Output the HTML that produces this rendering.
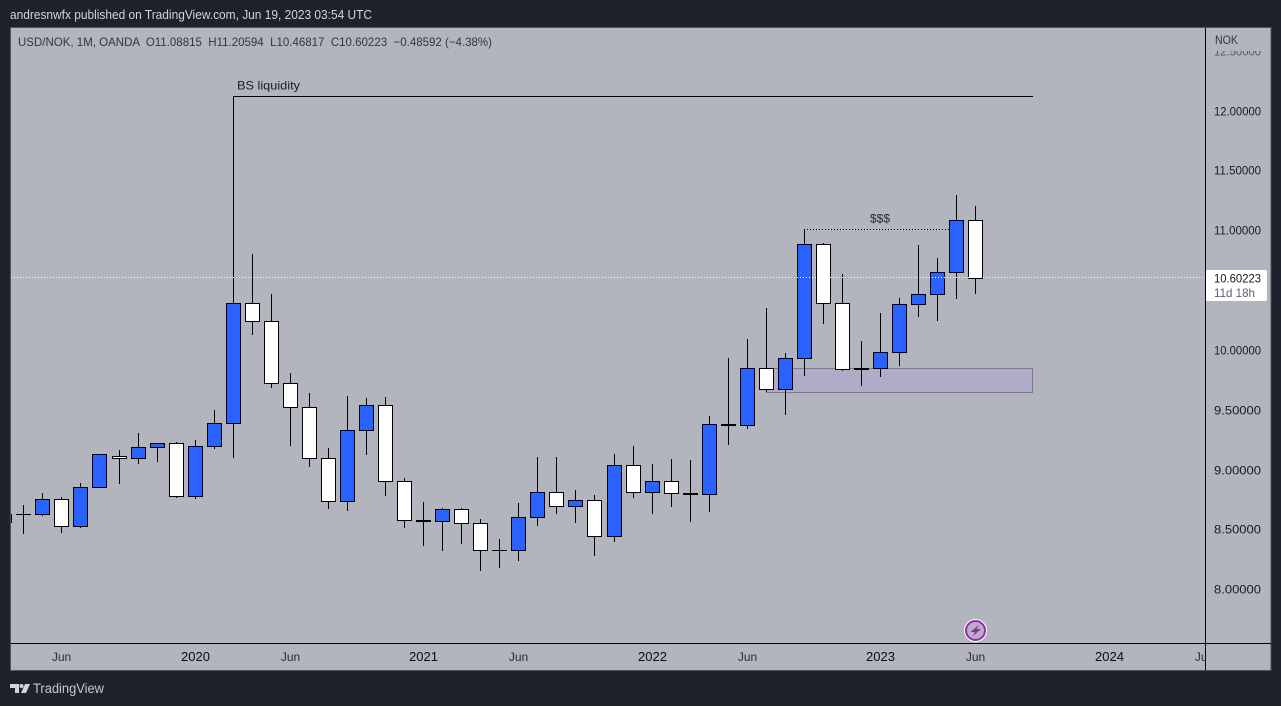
<!DOCTYPE html>
<html lang="en">
<head>
<meta charset="utf-8">
<title>USD/NOK 1M chart</title>
<style>
html,body{margin:0;padding:0;width:1281px;height:706px;overflow:hidden;background:#1e222d}
svg{display:block;font-family:"Liberation Sans",sans-serif}
</style>
</head>
<body>
<svg id="chart" xmlns="http://www.w3.org/2000/svg" width="1281" height="706" viewBox="0 0 1281 706">
  <defs>
    <clipPath id="plot-clip"><rect x="11" y="28" width="1194" height="615"/></clipPath>
    <clipPath id="time-clip"><rect x="11" y="644" width="1194" height="26"/></clipPath>
    <clipPath id="price-clip"><rect x="1206" y="51" width="64" height="592"/></clipPath>
  </defs>
  <rect x="0" y="0" width="1281" height="706" fill="#1e222d"/>
  <text x="10" y="19" font-size="12.5" fill="#d1d4dc" textLength="362" lengthAdjust="spacingAndGlyphs">andresnwfx published on TradingView.com, Jun 19, 2023 03:54 UTC</text>
  <rect x="10.5" y="27.5" width="1260.5" height="643" fill="#b2b5be" stroke="#50535e" stroke-width="1"/>

  <g id="drawings-below" clip-path="url(#plot-clip)">
    <rect x="766.5" y="368.5" width="266" height="24" fill="#b0abc7" stroke="#7b7b86" stroke-width="1" shape-rendering="crispEdges"/>
  </g>
  <g id="candles" clip-path="url(#plot-clip)" shape-rendering="crispEdges"></g>
  <g id="drawings-above" clip-path="url(#plot-clip)">
    <polyline points="233.5,303 233.5,96.5 1033,96.5" fill="none" stroke="#000" stroke-width="1" shape-rendering="crispEdges"/>
    <text x="237" y="89.5" font-size="12" fill="#1c1e24" textLength="63" lengthAdjust="spacingAndGlyphs">BS liquidity</text>
    <line x1="804" y1="229.5" x2="950" y2="229.5" stroke="#000" stroke-width="1" stroke-dasharray="1 2" shape-rendering="crispEdges"/>
    <text x="870" y="222.5" font-size="12" fill="#2a2c33" textLength="20" lengthAdjust="spacingAndGlyphs">$$$</text>
    <line x1="11" y1="277.5" x2="1205" y2="277.5" stroke="#ffffff" stroke-width="1" stroke-dasharray="1 2" shape-rendering="crispEdges"/>
  </g>

  <text x="18" y="46" font-size="12" fill="#33363e" xml:space="preserve" textLength="474" lengthAdjust="spacingAndGlyphs">USD/NOK, 1M, OANDA  O11.08815  H11.20594  L10.46817  C10.60223  −0.48592 (−4.38%)</text>

  <line x1="1205.5" y1="28" x2="1205.5" y2="670" stroke="#000" stroke-width="1" shape-rendering="crispEdges"/>
  <line x1="11" y1="643.5" x2="1271" y2="643.5" stroke="#000" stroke-width="1" shape-rendering="crispEdges"/>
  <g id="price-axis" clip-path="url(#price-clip)"></g>
  <g id="time-axis" clip-path="url(#time-clip)"></g>
  <text x="1215" y="44" font-size="12" fill="#33363e" textLength="23" lengthAdjust="spacingAndGlyphs">NOK</text>

  <g>
    <path d="M1206 270H1265a2 2 0 0 1 2 2V299a2 2 0 0 1 -2 2H1206Z" fill="#ffffff"/>
    <text x="1214" y="282.5" font-size="12" fill="#131722" textLength="47" lengthAdjust="spacingAndGlyphs">10.60223</text>
    <text x="1214" y="297" font-size="12" fill="#5d606b" textLength="41" lengthAdjust="spacingAndGlyphs">11d 18h</text>
  </g>

  <g>
    <circle cx="975.5" cy="630.5" r="11.5" fill="#ffffff"/>
    <circle cx="975.5" cy="630.5" r="9.5" fill="#b2b5be" stroke="#9c27b0" stroke-width="2"/>
    <polygon points="979,624.5 970.5,632 975,632 972.5,636.5 981,629 976.5,629" fill="#9c27b0"/>
  </g>

  <g>
    <polygon points="10,684 19,684 19,693 15,693 15,688 10,688" fill="#d1d4dc"/>
    <circle cx="21.5" cy="686" r="2" fill="#d1d4dc"/>
    <polygon points="25,684 30,684 26,693 21,693" fill="#d1d4dc"/>
    <text x="33" y="693" font-size="13.5" fill="#c4c7d0" textLength="71" lengthAdjust="spacingAndGlyphs">TradingView</text>
  </g>
</svg>

<script>
const opens = [8.562,8.629,8.629,8.754,8.529,8.855,9.114,9.097,9.189,9.222,8.779,9.197,9.389,10.392,10.241,9.724,9.523,9.097,8.738,9.331,9.540,8.905,8.579,8.571,8.671,8.554,8.328,8.328,8.604,8.813,8.696,8.746,8.445,9.038,8.813,8.905,8.804,8.796,9.381,9.373,9.849,9.673,9.932,10.885,10.392,9.840,9.849,9.983,10.383,10.467,10.651,11.08815];
const highs = [8.646,8.704,8.804,8.771,8.888,9.130,9.164,9.306,9.222,9.231,9.247,9.498,12.121,10.801,10.467,9.807,9.640,9.180,9.615,9.598,9.606,8.930,8.729,8.679,8.679,8.587,8.420,8.721,9.105,9.105,8.830,8.788,9.130,9.197,9.047,9.089,9.080,9.448,9.932,10.091,10.350,9.974,11.012,10.893,10.634,10.075,10.308,10.433,10.876,10.767,11.294,11.20594];
const lows = [8.537,8.462,8.612,8.470,8.512,8.855,8.880,9.047,9.063,8.763,8.754,9.172,9.097,10.125,9.682,9.197,9.022,8.671,8.654,9.122,8.779,8.512,8.362,8.320,8.378,8.153,8.178,8.236,8.529,8.629,8.554,8.278,8.395,8.763,8.629,8.688,8.562,8.646,9.205,9.339,9.648,9.456,9.782,10.216,9.824,9.698,9.774,9.866,10.275,10.241,10.425,10.46817];
const closes = [8.629,8.629,8.754,8.529,8.855,9.130,9.097,9.189,9.222,8.779,9.197,9.389,10.392,10.241,9.724,9.523,9.097,8.738,9.331,9.540,8.905,8.579,8.571,8.671,8.554,8.328,8.328,8.604,8.813,8.696,8.746,8.445,9.038,8.813,8.905,8.804,8.796,9.381,9.373,9.849,9.673,9.932,10.885,10.392,9.840,9.849,9.983,10.383,10.467,10.651,11.085,10.60223];
const priceTicks = [12.5,12,11.5,11,10.5,10,9.5,9,8.5,8];
const timeLabels = ['Jun','2020','Jun','2021','Jun','2022','Jun','2023','Jun','2024','Jun'];
const timeBars = [3,10,15,22,27,34,39,46,51,58,63];

const SVG_NS = 'http://www.w3.org/2000/svg';
function priceToY(p){ return 110.5 + (12 - p) * 119.7; }
function barToX(i){ return Math.floor(4.79 + i * 19.0385) + 0.5; }
function snap(y){ return Math.round(y) + 0.5; }
function make(tag, attrs, parent){
  const el = document.createElementNS(SVG_NS, tag);
  for (const k in attrs) el.setAttribute(k, attrs[k]);
  parent.appendChild(el);
  return el;
}

const candleLayer = document.getElementById('candles');
for (let i = 0; i < opens.length; i++) {
  const x = barToX(i);
  const up = closes[i] > opens[i];
  const top = snap(priceToY(Math.max(opens[i], closes[i])));
  const bottom = snap(priceToY(Math.min(opens[i], closes[i])));
  const group = make('g', {}, candleLayer);
  
  
  const wick = make('line', {x1:x, x2:x, y1:Math.round(priceToY(highs[i])), y2:Math.round(priceToY(lows[i])), stroke:'#000', 'stroke-width':1}, group);
  
  
  let body;
  if (bottom > top) {
    body = make('rect', {x:x-7, y:top, width:14, height:bottom-top, fill: up ? '#2962ff' : '#ffffff', stroke:'#000', 'stroke-width':1}, group);
  } else {
    body = make('line', {x1:x-7.5, x2:x+7.5, y1:top, y2:top, stroke:'#000', 'stroke-width':1}, group);
  }
  
  
}

const priceAxis = document.getElementById('price-axis');
priceTicks.forEach(function(p){
  const t = make('text', {x:1214, y:Math.round(priceToY(p)) + 4.5, 'font-size':12, fill:'#1a1c22', textLength:47, lengthAdjust:'spacingAndGlyphs'}, priceAxis);
  
  
  if (p > 12) t.setAttribute('opacity', '0.6');
  t.textContent = p.toFixed(5);
});

const timeAxis = document.getElementById('time-axis');
timeLabels.forEach(function(label, k){
  const year = label !== 'Jun';
  const t = make('text', {x:barToX(timeBars[k]), y:661, 'font-size': year ? 13 : 12, 'text-anchor':'middle', fill: year ? '#0b0c10' : '#2a2c33'}, timeAxis);
  
  
  t.textContent = label;
});
</script>
</body>
</html>
